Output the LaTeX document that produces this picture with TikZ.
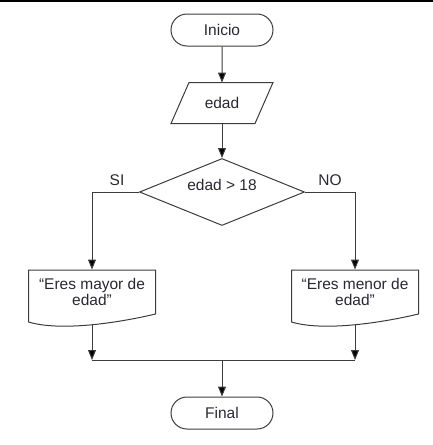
\documentclass[tikz,border=0pt]{standalone}
\usepackage{fontspec}
\setmainfont{Liberation Sans}
\usetikzlibrary{arrows.meta,shapes.geometric,shapes.misc}
\definecolor{ln}{RGB}{60,60,60}
\definecolor{tx}{RGB}{40,40,50}
\begin{document}
\begin{tikzpicture}[x=1pt,y=-1pt,line width=1pt,
  every node/.style={font=\fontsize{15.5}{16}\selectfont,text=tx},
  term/.style={draw=ln,rounded rectangle,minimum width=102pt,minimum height=32pt,inner sep=0pt},
  arr/.style={draw=ln,-{Triangle[length=10pt,width=8pt,fill=black]}},
  plain/.style={draw=ln},
  docbox/.style={minimum width=127pt,minimum height=44pt,inner sep=0pt,align=center}]
\useasboundingbox (0,0) rectangle (433,445);
\fill[black] (0,0) rectangle (433,2);

\node[term] (ini) at (222,30) {Inicio};

\node[minimum width=84pt,minimum height=40pt,inner sep=0pt] (edad) at (222,103) {edad};
\draw[plain] ([xshift=-33pt]edad.north) -- ([xshift=51pt]edad.north)
  -- ([xshift=33pt]edad.south) -- ([xshift=-51pt]edad.south) -- cycle;

\node[draw=ln,diamond,minimum width=165pt,minimum height=67pt,inner sep=0pt] (cond) at (222,192) {};
\node (condtx) at (222,185) {edad > 18};

\node (si) at (117,180) {SI};
\node (no) at (330,180) {NO};

\node[docbox] (mayor) at (92,292) {“Eres mayor de\\edad”};
\begin{scope}[shift={(mayor.center)}]
\draw[plain] (-63.5,30) -- (-63.5,-22) -- (63.5,-22) -- (63.5,22)
  .. controls (30,30) and (-30,40) .. (-63.5,30) coordinate[pos=0.5] (mb) -- cycle;
\end{scope}

\node[docbox] (menor) at (355,292) {“Eres menor de\\edad”};
\begin{scope}[shift={(menor.center)}]
\draw[plain] (-63.5,30) -- (-63.5,-22) -- (63.5,-22) -- (63.5,22)
  .. controls (30,30) and (-30,40) .. (-63.5,30) coordinate[pos=0.5] (nb) -- cycle;
\end{scope}

\node[term] (fin) at (222,413) {Final};

\coordinate (jl) at (92,360);
\coordinate (jr) at (355,360);
\coordinate (jm) at (222,360);

\draw[arr] (ini) -- (edad);
\draw[arr] (edad.south) -- (cond.north);
\draw[arr] (cond.west) -| (mayor.north);
\draw[arr] (cond.east) -| (menor.north);
\draw[arr] (mb) -- (jl);
\draw[arr] (nb) -- (jr);
\draw[plain] (jl) -- (jr);
\draw[arr] (jm) -- (fin);
\end{tikzpicture}
\end{document}
